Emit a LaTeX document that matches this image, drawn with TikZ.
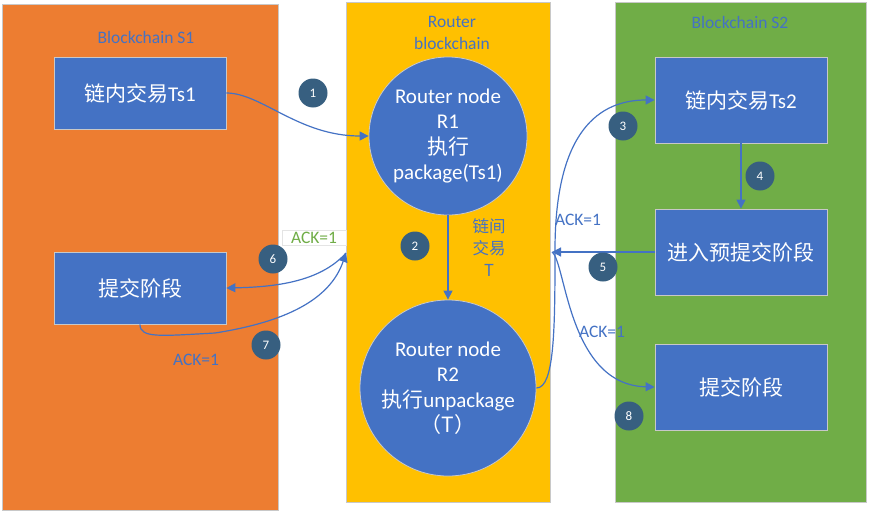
\documentclass[tikz,border=0pt]{standalone}
\usepackage{fontspec}
\setmainfont{Carlito}
\newfontfamily\cjk{Noto Sans CJK SC}
\usetikzlibrary{arrows.meta}

\definecolor{chainone}{HTML}{ED7D31}
\definecolor{routerbg}{HTML}{FFC000}
\definecolor{chaintwo}{HTML}{70AD47}
\definecolor{boxblue}{HTML}{4472C4}
\definecolor{stepblue}{HTML}{375F80}
\definecolor{edgegray}{HTML}{C8C8C8}

\tikzset{
  txbox/.style={draw=edgegray, line width=0.8pt, fill=boxblue, text=white,
    minimum width=172pt, minimum height=72pt, inner sep=0pt,
    font=\fontsize{21}{25}\selectfont},
  rnode/.style={circle, draw=edgegray, line width=0.8pt, fill=boxblue, text=white,
    align=center, inner sep=0pt, font=\fontsize{21}{25.5}\selectfont},
  num/.style={circle, fill=stepblue, text=white, minimum size=29pt, inner sep=0pt,
    font=\fontsize{13}{15}\selectfont},
  lbl/.style={text=boxblue, align=center, font=\fontsize{17.5}{22}\selectfont},
  flow/.style={draw=boxblue, line width=1.2pt, -{Triangle[width=9pt,length=9pt]}},
}

\begin{document}
\begin{tikzpicture}[x=1pt, y=-1pt]
    \useasboundingbox (0,0) rectangle (869,514);

    % Blockchain S1
    \filldraw[fill=chainone, draw=edgegray] (2,4) rectangle (278,510);
    \node[lbl] (s1lbl) at (146,37) {Blockchain S1};

    % Router blockchain
    \filldraw[fill=routerbg, draw=edgegray] (346,2) rectangle (550,502);
    \node[lbl] (rlbl) at (452,33) {Router\\blockchain};

    % Blockchain S2
    \filldraw[fill=chaintwo, draw=edgegray] (615,2) rectangle (866,502);
    \node[lbl] (s2lbl) at (740,22) {Blockchain S2};

    % Transactions in S1
    \node[txbox] (ts1) at (140,93) {{\cjk 链内交易}Ts1};
    \node[txbox] (lcommit) at (140,288) {\cjk 提交阶段};

    % Transactions in S2
    \node[txbox, minimum height=86pt] (ts2) at (741,100) {{\cjk 链内交易}Ts2};
    \node[txbox, minimum height=86pt] (precommit) at (741,252) {\cjk 进入预提交阶段};
    \node[txbox, minimum height=86pt] (rcommit) at (741,387) {\cjk 提交阶段};

    % Router nodes
    \node[rnode, minimum size=158pt] (r1) at (448,136) {Router node\\R1\\{\cjk 执行}\\package(Ts1)};
    \node[rnode, minimum size=176pt] (r2) at (448,388) {Router node\\R2\\{\cjk 执行}unpackage\\{\cjk （T）}};

    % Junctions on the router chain
    \coordinate (jl) at (346,253);
    \coordinate (jr) at (552,252);

    % Connections
    \draw[flow] (ts1.east) .. controls +(35,0) and +(-70,0) .. (r1.west);
    \draw[flow] (r1.south) -- (r2.north);
    \draw[flow] (r2.east) .. controls +(18,0) and (555,330) .. (555,250)
        .. controls (555,130) and (600,100) .. (ts2.west);
    \draw[flow] (ts2.south) -- (precommit.north);
    \draw[flow] (precommit.west) -- (jr);
    \draw[flow] (jr) .. controls (566,262) and (568,385) .. (rcommit.west);
    \draw[flow] (jl) .. controls (320,282) and (275,287) .. (lcommit.east);
    \draw[flow] (lcommit.south) .. controls +(0,14) and (160,336) .. (215,333)
        .. controls (285,322) and (330,300) .. (jl);

    % Labels
    \node[lbl, font=\cjk\fontsize{16.5}{22}\selectfont] (cross) at (489,248) {链间\\交易\\T};
    \node[lbl] (ack5) at (578,220) {ACK=1};
    \node[lbl] (ack8) at (602,332) {ACK=1};
    \node[lbl] (ack7) at (196,360) {ACK=1};
    \node[lbl, text=chaintwo, fill=white, draw=edgegray!50, inner sep=0pt,
        minimum width=64pt, minimum height=15pt] (ack6) at (314,238) {ACK=1};

    % Steps
    \node[num] (n1) at (313,93) {1};
    \node[num] (n2) at (415,246) {2};
    \node[num] (n3) at (623,126) {3};
    \node[num] (n4) at (760,176) {4};
    \node[num] (n5) at (603,267) {5};
    \node[num] (n6) at (273,259) {6};
    \node[num] (n7) at (266,345) {7};
    \node[num] (n8) at (629,416) {8};
\end{tikzpicture}
\end{document}
